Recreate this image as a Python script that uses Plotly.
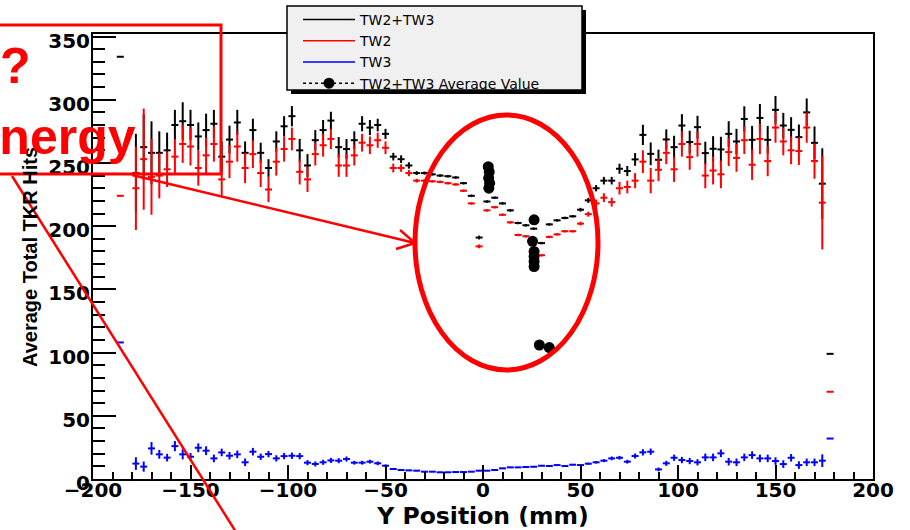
import plotly.graph_objects as go

# ---------------- data ----------------
# bin centres (mm); bin at -182 is empty
y_position = [-186] + list(range(-178, 175, 4)) + [178]

tw23 = [334,
        242, 262.5, 258, 258, 260, 280, 283, 280, 271, 276, 281, 255, 268.5, 282, 258, 276,
        258, 246, 267, 279, 287, 260, 248, 268, 276, 283.5, 262.5, 261, 268, 281, 278, 280,
        273, 255, 253, 248, 242, 242, 241, 240, 239.5, 238.5, 234, 224, 191, 219.5, 222.5, 218,
        212.5, 202.5, 200.7, 198, 186.6, 201.4, 204.6, 206.5, 207.8, 213, 220.4, 230, 236, 236,
        245.4, 243.6, 252.8, 272.2, 257.2, 252.5, 268.6, 262.5, 279.6, 266.5, 278.3, 257.8,
        261.2, 260.7, 273, 267, 284.8, 268.3, 285.6, 268.3, 292, 279.6, 276.2, 270.4, 290,
        265.9, 233.6,
        99]
tw23_err = [0,
            31, 26, 25, 17, 14, 12, 15, 12, 11, 13, 11, 12, 11, 10, 9, 9,
            8, 7, 8, 8, 8, 9, 9, 8, 8, 7, 8, 8, 7, 6, 6, 5,
            4, 3, 3, 2.5, 1.5, 1.2, 1, 1, 1, 1, 1, 1, 1.5, 1, 1, 1,
            1, 1, 1, 1, 1, 1, 1, 1, 1, 1.5, 2, 2.5, 3, 3,
            4, 4, 5, 8, 9, 8, 8, 9, 9, 9, 9, 9,
            10, 10, 10, 10, 10, 11, 11, 11, 11, 10, 10, 10, 11,
            13, 28,
            0]

tw2 = [224,
       230, 253, 239, 240, 245, 255, 265, 263, 246, 256, 265, 237, 251, 263, 246, 257,
       242, 229, 251, 261, 269, 243, 237, 257, 264, 269, 248, 248, 256, 266, 264, 268,
       262, 246, 246, 242, 236, 236, 235.5, 235, 234, 233, 228, 218, 184, 212.5, 215, 209,
       203, 193, 192, 188, 177, 191.5, 193.5, 196, 196, 202, 209.5, 218, 222.5, 219,
       230, 231, 236, 251, 236, 244.6, 258, 245, 265, 254.6, 265, 240,
       244, 241, 258.6, 254, 268, 248.6, 269, 251.5, 278, 267, 260, 259.4, 278,
       251.5, 218.6,
       69]
tw2_err = [0,
           33, 40, 30, 18, 14, 14, 15, 15, 14, 14, 14, 14, 13, 12, 12, 11,
           11, 10, 11, 10, 9, 10, 10, 9, 9, 8, 9, 9, 8, 7, 7, 6,
           5, 3.5, 3, 2.5, 1.5, 1.2, 1, 1, 1, 1, 1, 1, 1.5, 1, 1, 1,
           1, 1, 1, 1, 1, 1, 1, 1, 1, 1.5, 2, 3, 3.5, 3.5,
           5, 5, 6, 9, 10, 9, 9, 10, 10, 10, 10, 10,
           11, 11, 11, 11, 11, 12, 12, 12, 12, 11, 11, 11, 12,
           14, 37,
           0]

tw3 = [108,
       12.2, 9.8, 24.2, 19.5, 16.9, 26, 19.5, 17.6, 24.7, 22.4, 16.3, 21, 18.4, 19.5, 13.2, 21.6,
       17.6, 19.7, 16.3, 18.1, 18.4, 18.1, 12.9, 11.9, 13.2, 14.7, 14.5, 15.8, 12.9, 12.9, 13.7, 12.4,
       10.5, 7.9, 7.1, 6.8, 6.6, 5.8, 5.8, 5.3, 5.3, 5.5, 5.5, 5.8, 6.6, 6.6, 7.1, 8.4,
       9.2, 9.2, 9.5, 9.7, 10.5, 10.3, 11, 10.3, 11.3, 11, 12.1, 13.2, 14.5, 16.3,
       16.8, 13.7, 18.2, 21.1, 21.6, 7.6, 12.4, 16.8, 15, 14.2, 13.2, 17.1,
       17.1, 20.3, 13.7, 13.2, 17.1, 18.9, 16.3, 16.3, 14.2, 11.8, 16.8, 11, 13.2,
       13.2, 14.5,
       32]
tw3_err = [0,
           5, 4, 5, 3.5, 3, 4, 4, 3, 3.5, 3.5, 3, 3, 3, 3, 3, 3,
           2.5, 2.5, 2.5, 2.5, 2.5, 2.5, 2, 2, 2, 2, 2, 2, 1.5, 1.5, 1.5, 1.5,
           1, 0.8, 0.6, 0.5, 0.5, 0.4, 0.4, 0.4, 0.4, 0.4, 0.4, 0.4, 0.5, 0.5, 0.5, 0.5,
           0.5, 0.5, 0.5, 0.5, 0.5, 0.5, 0.6, 0.6, 0.6, 0.6, 0.8, 1, 1.2, 1.5,
           1.5, 1.5, 2, 2.5, 2.5, 1.5, 2, 2.5, 2.5, 2.5, 2.5, 3,
           3, 3, 3, 3, 3, 3, 3, 3, 3, 3, 3, 3, 3,
           3, 5,
           0]

avg_position = [2.7, 3.2, 2.9, 3.4, 3.0, 26.2, 25.4, 26.2, 26.2, 26.2, 26.2, 28.9, 34.0]
avg_value = [247, 243, 238, 234, 230, 205, 188, 180, 176, 172, 168, 106, 104]

series_names = ["TW2+TW3", "TW2", "TW3", "TW2+TW3 Average Value"]
series_colors = ["#000000", "#ff0000", "#0000ff"]
x_title = "Y Position (mm)"
y_title = "Average Total TKR Hits"

# ---------------- geometry helpers (layout only) ----------------
W, H = 910, 530
L, R, T, B = 93, 873, 34, 479


def px(xp):
    return (xp - L) / (R - L)


def py(yp):
    return (B - yp) / (B - T)


fig = go.Figure()

# legend entries
for name, col in zip(series_names[:3], series_colors):
    fig.add_trace(go.Scatter(x=[None], y=[None], mode="lines", name=name,
                             line=dict(color=col, width=1.5), hoverinfo="skip"))

# data series with error bars
for vals, errs, col in [(tw23, tw23_err, series_colors[0]),
                        (tw2, tw2_err, series_colors[1]),
                        (tw3, tw3_err, series_colors[2])]:
    fig.add_trace(go.Scatter(
        x=y_position, y=vals, mode="markers", showlegend=False,
        marker=dict(size=0.1, color=col),
        error_y=dict(type="data", array=errs, visible=True, color=col,
                     thickness=2, width=0),
        error_x=dict(type="constant", value=1.8, visible=True, color=col,
                     thickness=2, width=0),
        hoverinfo="skip"))

# average values (separated so that no connecting line is drawn)
ax, ay = [], []
for a, b in zip(avg_position, avg_value):
    ax += [a, None]
    ay += [b, None]
fig.add_trace(go.Scatter(x=ax, y=ay, mode="lines+markers", name=series_names[3],
                         connectgaps=False,
                         line=dict(color="black", width=1.5, dash="dot"),
                         marker=dict(size=11, color="black"), hoverinfo="skip"))

red = "#ff0000"
shapes = [
    # legend shadow + box
    dict(type="rect", xref="paper", yref="paper", x0=px(291), x1=px(586),
         y0=py(94), y1=py(10), fillcolor="black", line=dict(width=0), layer="above"),
    dict(type="rect", xref="paper", yref="paper", x0=px(287), x1=px(582),
         y0=py(90), y1=py(6), fillcolor="#f0f0f0",
         line=dict(color="black", width=1.5), layer="above"),
    # red annotation box
    dict(type="rect", xref="paper", yref="paper", x0=px(-5), x1=px(221),
         y0=py(174), y1=py(25), line=dict(color=red, width=3), layer="above"),
    # arrow
    dict(type="line", xref="paper", yref="paper", x0=px(132), y0=py(175),
         x1=px(415), y1=py(243), line=dict(color=red, width=2.5), layer="above"),
    dict(type="line", xref="paper", yref="paper", x0=px(415), y0=py(243),
         x1=px(400), y1=py(230), line=dict(color=red, width=2.5), layer="above"),
    dict(type="line", xref="paper", yref="paper", x0=px(415), y0=py(243),
         x1=px(396), y1=py(249), line=dict(color=red, width=2.5), layer="above"),
    # long diagonal line
    dict(type="line", xref="paper", yref="paper", x0=px(12), y0=py(176),
         x1=px(236), y1=py(532), line=dict(color=red, width=2.5), layer="above"),
    # ellipse
    dict(type="circle", xref="paper", yref="paper", x0=px(415), x1=px(598),
         y0=py(370), y1=py(115), line=dict(color=red, width=5), layer="above"),
]

annotations = [
    # y-axis title (placed explicitly to sit close to the tick labels)
    dict(text=y_title, xref="paper", yref="paper", x=px(30), y=py(257),
         xanchor="center", yanchor="middle", textangle=-90, showarrow=False,
         font=dict(family="Liberation Sans", size=20, color="black", weight="bold")),
    dict(text="?", xref="paper", yref="paper", x=px(33), y=py(66),
         xanchor="right", yanchor="middle", showarrow=False,
         font=dict(family="Liberation Sans", size=50, color=red, weight="bold")),
    dict(text="Energy", xref="paper", yref="paper", x=px(138), y=py(137),
         xanchor="right", yanchor="middle", showarrow=False,
         font=dict(family="Liberation Sans", size=50, color=red, weight="bold")),
]

tickfont = dict(family="DejaVu Sans", size=20, color="black", weight="bold")

fig.update_layout(
    width=W, height=H,
    margin=dict(l=L, r=W - R, t=T, b=H - B, autoexpand=False),
    paper_bgcolor="white", plot_bgcolor="white",
    shapes=shapes, annotations=annotations,
    showlegend=True,
    legend=dict(x=px(298), y=py(4), xanchor="left", yanchor="top",
                bgcolor="rgba(0,0,0,0)", borderwidth=0, itemwidth=52,
                font=dict(family="DejaVu Sans", size=14, color="black"),
                tracegroupgap=0),
    xaxis=dict(range=[-200, 200], tick0=0, dtick=50, ticks="inside", ticklen=14,
               tickwidth=2, tickcolor="black", showline=True, linewidth=2,
               linecolor="black", mirror=True, showgrid=False, zeroline=False,
               tickfont=tickfont, ticklabelstandoff=-8,
               minor=dict(dtick=10, ticks="inside", ticklen=7, tickwidth=2,
                          tickcolor="black", showgrid=False),
               title=dict(text=x_title, standoff=8,
                          font=dict(family="DejaVu Sans", size=23.5, color="black",
                                    weight="bold"))),
    yaxis=dict(range=[0, 352], tick0=0, dtick=50, ticks="inside", ticklen=23,
               tickwidth=2, tickcolor="black", showline=True, linewidth=2,
               linecolor="black", mirror=True, showgrid=False, zeroline=False,
               tickfont=tickfont, ticklabelstandoff=-3, ticklabelshift=4,
               minor=dict(dtick=10, ticks="inside", ticklen=12, tickwidth=2,
                          tickcolor="black", showgrid=False)),
)

fig.write_html(
    "out.html",
    config={"displayModeBar": False},
    post_script="document.body.style.margin='0';"
                "document.documentElement.style.overflow='hidden';",
)
